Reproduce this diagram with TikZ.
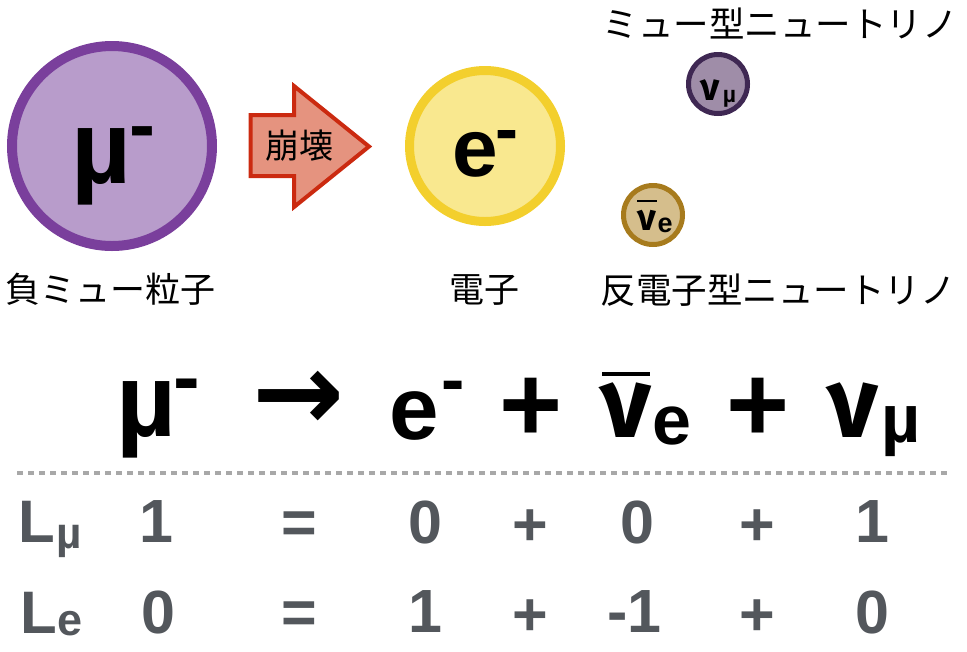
\documentclass[tikz,border=0pt]{standalone}
\usepackage{fontspec}
\setmainfont{Liberation Sans}
\newfontfamily\jpfont{Noto Sans CJK JP}
\newfontfamily\arrfont{DejaVu Sans}
\newfontfamily\nufont{Fira Sans}
\newcommand\pxf[1]{\fontsize{\fpeval{0.75*#1}pt}{\fpeval{0.9*#1}pt}\selectfont}
\definecolor{mufill}{HTML}{B89CCB}
\definecolor{muline}{HTML}{7A3F9C}
\definecolor{efill}{HTML}{F9E88F}
\definecolor{eline}{HTML}{F3CF2D}
\definecolor{numfill}{HTML}{9F8DA8}
\definecolor{numline}{HTML}{3F2853}
\definecolor{nuefill}{HTML}{D5BE8C}
\definecolor{nueline}{HTML}{A77B1D}
\definecolor{arrfill}{HTML}{E5937F}
\definecolor{arrline}{HTML}{CB2A10}
\definecolor{numgray}{HTML}{53575C}
\definecolor{dashgray}{HTML}{A8A8A8}
\begin{document}
\begin{tikzpicture}[x=0.75pt,y=-0.75pt,
  g/.style={inner sep=0pt, outer sep=0pt, anchor=center},
  sym/.style={g, font=\bfseries\pxf{#1}},
  nu/.style={g, font=\nufont\bfseries\pxf{#1}},
  num/.style={g, text=numgray, font=\bfseries\pxf{#1}},
  jp/.style={g, font=\jpfont\pxf{#1}},
  particle/.style={circle, inner sep=0pt, outer sep=0pt},
  sepline/.style={draw=dashgray, line width=2.6pt, dash pattern=on 4.5pt off 3.75pt},
  ]
\useasboundingbox (0,0) rectangle (967,651);
% ---------- particles ----------
\node[particle, draw=muline, fill=mufill, line width=7.5pt, minimum size=150pt] (mucirc) at (112,146) {};
\node[sym=104] (cmu) at (101,166.5) {µ};
\node[sym=78] (cmum) at (142,139) {-};
\node[jp=35] (lmu) at (111,289.5) {負ミュー粒子};

\draw[draw=arrline, fill=arrfill, line width=3pt, line join=miter]
  (250.5,115) -- (294,115) -- (294,86) -- (369,146.5) -- (294,207) -- (294,176) -- (250.5,176) -- cycle;
\node[jp=34] (decay) at (299,146) {崩壊};

\node[particle, draw=eline, fill=efill, line width=6.75pt, minimum size=113.25pt] (ecirc) at (485,146) {};
\node[sym=82] (ce) at (475,155) {e};
\node[sym=69] (cem) at (506.5,141) {-};
\node[jp=35] (le) at (484.5,289.5) {電子};

\node[jp=35.5] (lnumu) at (780,23.5) {ミュー型ニュートリノ};
\node[particle, draw=numline, fill=numfill, line width=3.75pt, minimum size=44.25pt] (numucirc) at (718,84) {};
\node[nu=38] (cnumu) at (710.5,90) {ν};
\node[sym=23] (cnumus) at (729.5,98.5) {µ};

\node[particle, draw=nueline, fill=nuefill, line width=3.75pt, minimum size=44.25pt] (nuecirc) at (653,215) {};
\node[nu=37] (cnue) at (646.5,220) {ν};
\draw[line width=1.9pt] (637,201) -- (657,201);
\node[sym=27] (cnues) at (665,225) {e};
\node[jp=35.5] (lnue) at (778,290) {反電子型ニュートリノ};

% ---------- equation ----------
\node[sym=104] (qmu) at (146,420) {µ};
\node[sym=80] (qmum) at (187,392) {-};
\node[g, font=\arrfont\bfseries\pxf{110}] (qarr) at (299,400.5) {→};
\node[sym=89] (qe) at (414.5,416) {e};
\node[sym=70] (qem) at (453.5,392.5) {-};
\node[sym=108] (qp1) at (531.5,410) {+};
\node[nu=100] (qnue) at (626,410) {ν};
\draw[line width=3pt] (602,374) -- (650,374);
\node[sym=70] (qnues) at (672,426) {e};
\node[sym=108] (qp2) at (758.5,410) {+};
\node[nu=100] (qnumu) at (852.5,410) {ν};
\node[sym=68] (qnumus) at (901.5,432) {µ};

\draw[sepline] (17,473) -- (950,473);

% ---------- lepton numbers ----------
\node[num=60] (lmuL) at (36.5,521.5) {L};
\node[num=44] (lmuS) at (69,541) {µ};
\node[num=61] (r1a) at (156,522) {1};
\node[num=61] (r1b) at (299.5,527.5) {=};
\node[num=61] (r1c) at (425.5,522.5) {0};
\node[num=61] (r1d) at (530.5,528) {+};
\node[num=61] (r1e) at (637.5,522.5) {0};
\node[num=61] (r1f) at (757.5,528) {+};
\node[num=61] (r1g) at (872,522) {1};

\node[num=60] (leL) at (39,612.5) {L};
\node[num=45] (leS) at (70.5,623.5) {e};
\node[num=61] (r2a) at (158,612.5) {0};
\node[num=61] (r2b) at (299.5,617.5) {=};
\node[num=61] (r2c) at (425,612) {1};
\node[num=61] (r2d) at (530.5,618) {+};
\node[num=61] (r2e) at (634.5,612) {-1};
\node[num=61] (r2f) at (757.5,618) {+};
\node[num=61] (r2g) at (872.5,612.5) {0};
\end{tikzpicture}
\end{document}
